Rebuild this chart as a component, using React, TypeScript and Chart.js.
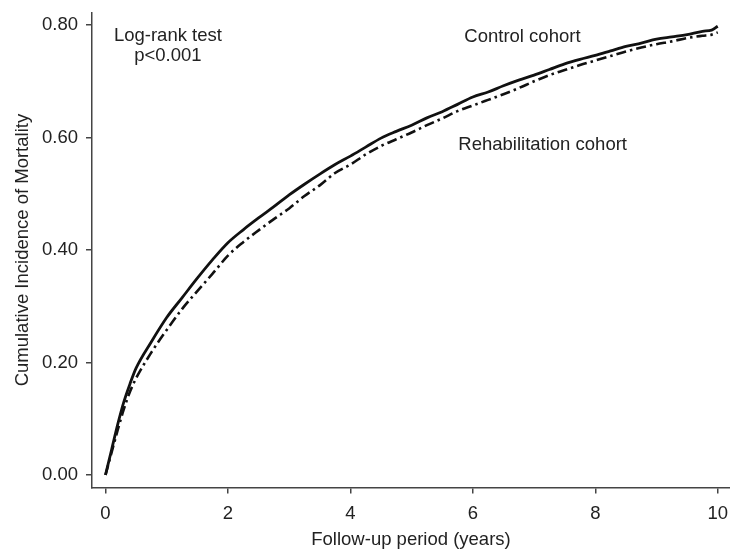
import React, { useEffect, useRef } from "react";
import { Chart, registerables } from "chart.js";

Chart.register(...registerables);

const followUpYears = [0, 0.1, 0.2, 0.3, 0.4, 0.5, 0.75, 1.0, 1.25, 1.5, 1.75, 2.0, 2.25, 2.5, 2.75, 3.0, 3.25, 3.5, 3.75, 4.0, 4.25, 4.5, 4.75, 5.0, 5.25, 5.5, 5.75, 6.0, 6.25, 6.5, 6.75, 7.0, 7.25, 7.5, 7.75, 8.0, 8.25, 8.5, 8.75, 9.0, 9.25, 9.5, 9.75, 9.9, 10.0];

const controlIncidence = [0, 0.045, 0.09, 0.13, 0.162, 0.19, 0.237, 0.28, 0.315, 0.35, 0.383, 0.413, 0.436, 0.457, 0.477, 0.498, 0.517, 0.535, 0.552, 0.567, 0.583, 0.599, 0.611, 0.622, 0.635, 0.646, 0.659, 0.672, 0.681, 0.692, 0.702, 0.711, 0.721, 0.731, 0.739, 0.746, 0.754, 0.762, 0.768, 0.775, 0.779, 0.783, 0.789, 0.791, 0.798];

const rehabIncidence = [0, 0.04, 0.08, 0.117, 0.148, 0.172, 0.218, 0.258, 0.295, 0.327, 0.358, 0.39, 0.414, 0.435, 0.455, 0.474, 0.496, 0.515, 0.537, 0.552, 0.57, 0.585, 0.597, 0.609, 0.622, 0.634, 0.647, 0.657, 0.667, 0.677, 0.688, 0.7, 0.711, 0.72, 0.729, 0.737, 0.745, 0.753, 0.76, 0.766, 0.771, 0.777, 0.781, 0.783, 0.787];

const xTickValues = [0, 2, 4, 6, 8, 10];
const yTickValues = [0, 0.2, 0.4, 0.6, 0.8];

const annotationTexts = ["Log-rank test", "p<0.001", "Control cohort", "Rehabilitation cohort"];
const annotationX = [1.02, 1.02, 6.81, 7.14];
const annotationY = [0.781, 0.745, 0.779, 0.587];

const FONT = "'Liberation Sans', Arial, Helvetica, sans-serif";
const FONT_SIZE = 18.5;
const TEXT_COLOR = "#222";
const AXIS_COLOR = "#444";

const annotationPlugin = {
  id: "textAnnotations",
  afterDatasetsDraw(chart: any) {
    const ctx = chart.ctx;
    const xs = chart.scales.x;
    const ys = chart.scales.y;
    ctx.save();
    ctx.font = `${FONT_SIZE}px ${FONT}`;
    ctx.fillStyle = TEXT_COLOR;
    ctx.textAlign = "center";
    ctx.textBaseline = "middle";
    annotationTexts.forEach((t, i) => {
      ctx.fillText(t, xs.getPixelForValue(annotationX[i]), ys.getPixelForValue(annotationY[i]));
    });
    ctx.restore();
  },
};

export default function App() {
  const canvasRef = useRef<HTMLCanvasElement | null>(null);

  useEffect(() => {
    if (!canvasRef.current) return;
    const chart = new Chart(canvasRef.current, {
      type: "line",
      data: {
        datasets: [
          {
            label: "Control cohort",
            data: followUpYears.map((x, i) => ({ x, y: controlIncidence[i] })),
            borderColor: "#111",
            borderWidth: 2.8,
            pointRadius: 0,
            cubicInterpolationMode: "monotone",
            fill: false,
          },
          {
            label: "Rehabilitation cohort",
            data: followUpYears.map((x, i) => ({ x, y: rehabIncidence[i] })),
            borderColor: "#111",
            borderWidth: 2.6,
            borderDash: [10, 4, 2.5, 4],
            pointRadius: 0,
            cubicInterpolationMode: "monotone",
            fill: false,
          },
        ],
      },
      options: {
        animation: false,
        responsive: false,
        maintainAspectRatio: false,
        devicePixelRatio: 1,
        layout: { padding: { top: 12.7, right: 0, left: 0, bottom: 0 } },
        plugins: {
          legend: { display: false },
          tooltip: { enabled: false },
        },
        scales: {
          x: {
            type: "linear",
            min: -0.22,
            max: 10.2,
            afterBuildTicks: (scale: any) => {
              scale.ticks = xTickValues.map((v) => ({ value: v }));
            },
            afterFit: (scale: any) => {
              scale.height = 64.5;
              scale.paddingLeft = 0;
              scale.paddingRight = 0;
            },
            ticks: {
              color: TEXT_COLOR,
              font: { family: FONT, size: FONT_SIZE },
              padding: 9,
              maxRotation: 0,
              callback: (v: any) => String(v),
            },
            grid: {
              display: true,
              drawOnChartArea: false,
              drawTicks: true,
              tickLength: 6,
              color: AXIS_COLOR,
              lineWidth: 1.5,
            },
            border: { display: true, color: AXIS_COLOR, width: 1.5 },
            title: {
              display: true,
              text: "Follow-up period (years)",
              color: TEXT_COLOR,
              font: { family: FONT, size: FONT_SIZE },
              padding: { top: 0, bottom: 1 },
            },
          },
          y: {
            type: "linear",
            min: -0.0222,
            max: 0.822,
            afterBuildTicks: (scale: any) => {
              scale.ticks = yTickValues.map((v) => ({ value: v }));
            },
            afterFit: (scale: any) => {
              scale.width = 92;
              scale.paddingTop = 0;
              scale.paddingBottom = 0;
            },
            ticks: {
              color: TEXT_COLOR,
              font: { family: FONT, size: FONT_SIZE },
              padding: 8,
              callback: (v: any) => Number(v).toFixed(2),
            },
            grid: {
              display: true,
              drawOnChartArea: false,
              drawTicks: true,
              tickLength: 6,
              color: AXIS_COLOR,
              lineWidth: 1.5,
            },
            border: { display: true, color: AXIS_COLOR, width: 1.5 },
            title: {
              display: true,
              text: "Cumulative Incidence of Mortality",
              color: TEXT_COLOR,
              font: { family: FONT, size: FONT_SIZE },
              padding: { top: 12, bottom: 0 },
            },
          },
        },
      },
      plugins: [annotationPlugin],
    });
    return () => chart.destroy();
  }, []);

  return (
    <div style={{ position: "fixed", left: 0, top: 0, width: 730, height: 552, background: "#fff" }}>
      <canvas ref={canvasRef} width={730} height={552} style={{ display: "block" }} />
    </div>
  );
}
